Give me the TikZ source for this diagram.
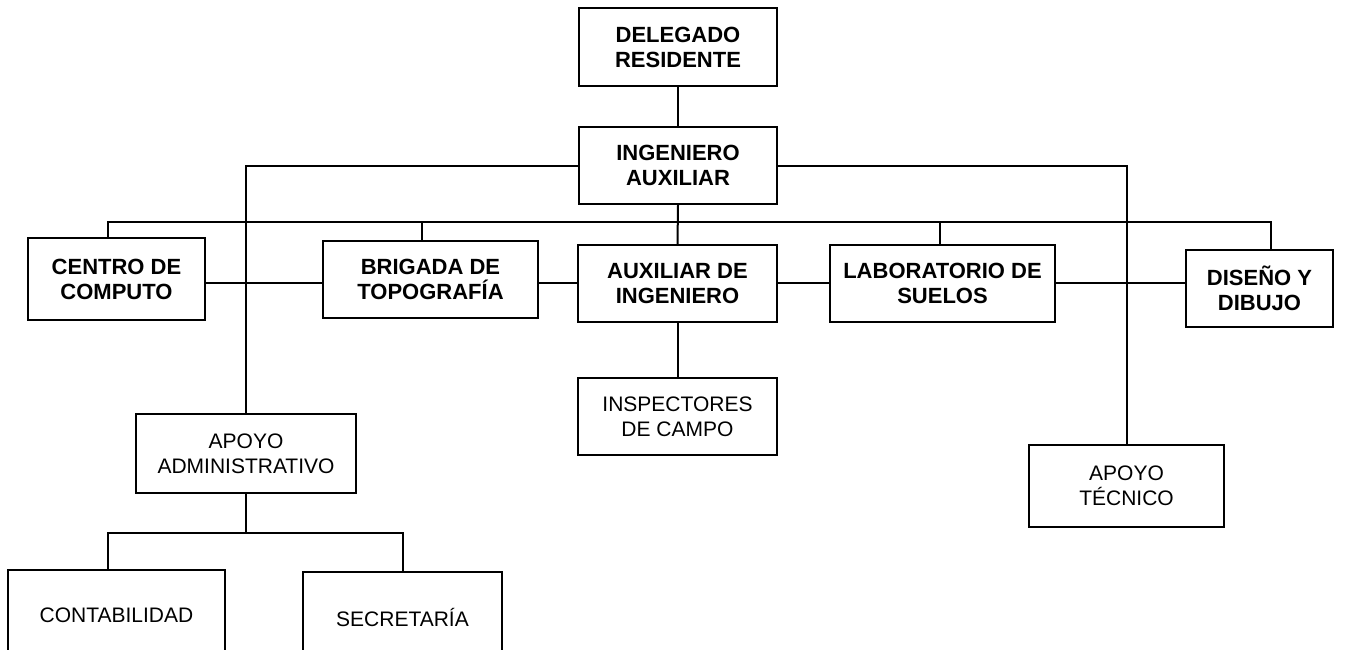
\documentclass[tikz,border=0pt]{standalone}
\usepackage{fontspec}
\setmainfont{Liberation Sans}
\usetikzlibrary{calc}
\begin{document}
\begin{tikzpicture}[x=1pt,y=-1pt,
  box/.style={draw, line width=2pt, align=center, inner sep=0pt, font=\fontsize{21}{25}\selectfont},
  bbox/.style={box, font=\fontsize{22}{25}\selectfont\bfseries},
  conn/.style={line width=2pt}]
\useasboundingbox (0,0) rectangle (1369,649);
% top
\node[bbox, minimum width=198pt, minimum height=78pt] (del) at (678,47) {DELEGADO\\RESIDENTE};
\node[bbox, minimum width=198pt, minimum height=77pt] (ing) at (678,165.5) {INGENIERO\\AUXILIAR};
% second row
\node[bbox, minimum width=177pt, minimum height=82pt] (cen) at (116.5,279) {CENTRO DE\\COMPUTO};
\node[bbox, minimum width=215pt, minimum height=77pt] (bri) at (430.5,279.5) {BRIGADA DE\\TOPOGRAFÍA};
\node[bbox, minimum width=199pt, minimum height=77pt] (aux) at (677.5,283.5) {AUXILIAR DE\\INGENIERO};
\node[bbox, minimum width=225pt, minimum height=77pt] (lab) at (942.5,283.5) {LABORATORIO DE\\SUELOS};
\node[bbox, minimum width=147pt, minimum height=77pt] (dis) at (1259.5,288.5) {DISEÑO Y\\DIBUJO};
% third row
\node[box, minimum width=199pt, minimum height=77pt] (ins) at (677.5,416.5) {INSPECTORES\\DE CAMPO};
\node[box, minimum width=220pt, minimum height=79pt] (apa) at (246,453.5) {APOYO\\ADMINISTRATIVO};
\node[box, minimum width=195pt, minimum height=82pt] (apt) at (1126.5,486) {APOYO\\TÉCNICO};
% bottom
\node[box, minimum width=217pt, minimum height=90pt] (con) at (116.5,615) {CONTABILIDAD};
\node[box, minimum width=199pt, minimum height=90pt] (sec) at (402.5,617) {SECRETARÍA};
% coordinates
\coordinate (busy) at (0,222);
\coordinate (midy) at (0,283);
\coordinate (cend) at ($(cen.north west)!0.45!(cen.north east)$);
\coordinate (brid) at ($(bri.north west)!0.46!(bri.north east)$);
\coordinate (labd) at ($(lab.north west)!0.49!(lab.north east)$);
\coordinate (disd) at ($(dis.north west)!0.58!(dis.north east)$);
\coordinate (cond) at ($(con.north west)!0.46!(con.north east)$);
\coordinate (secd) at ($(sec.north west)!0.5!(sec.north east)$);
% connectors
\draw[conn] (del.south) -- (ing.north);
\draw[conn] (ing.south) -- (aux.north);
\draw[conn] (cend) -- (cend |- busy) -- (disd |- busy) -- (disd);
\draw[conn] (brid |- busy) -- (brid);
\draw[conn] (labd |- busy) -- (labd);
\draw[conn] (ing.west) -| (apa.north);
\draw[conn] (ing.east) -| (apt.north);
\draw[conn] (cen.east |- midy) -- (bri.west |- midy);
\draw[conn] (bri.east |- midy) -- (aux.west |- midy);
\draw[conn] (aux.east |- midy) -- (lab.west |- midy);
\draw[conn] (lab.east |- midy) -- (dis.west |- midy);
\draw[conn] (aux.south) -- (ins.north);
\draw[conn] (apa.south) -- (apa.south |- 0,533);
\draw[conn] (cond) -- (cond |- 0,533) -- (secd |- 0,533) -- (secd);
\end{tikzpicture}
\end{document}
